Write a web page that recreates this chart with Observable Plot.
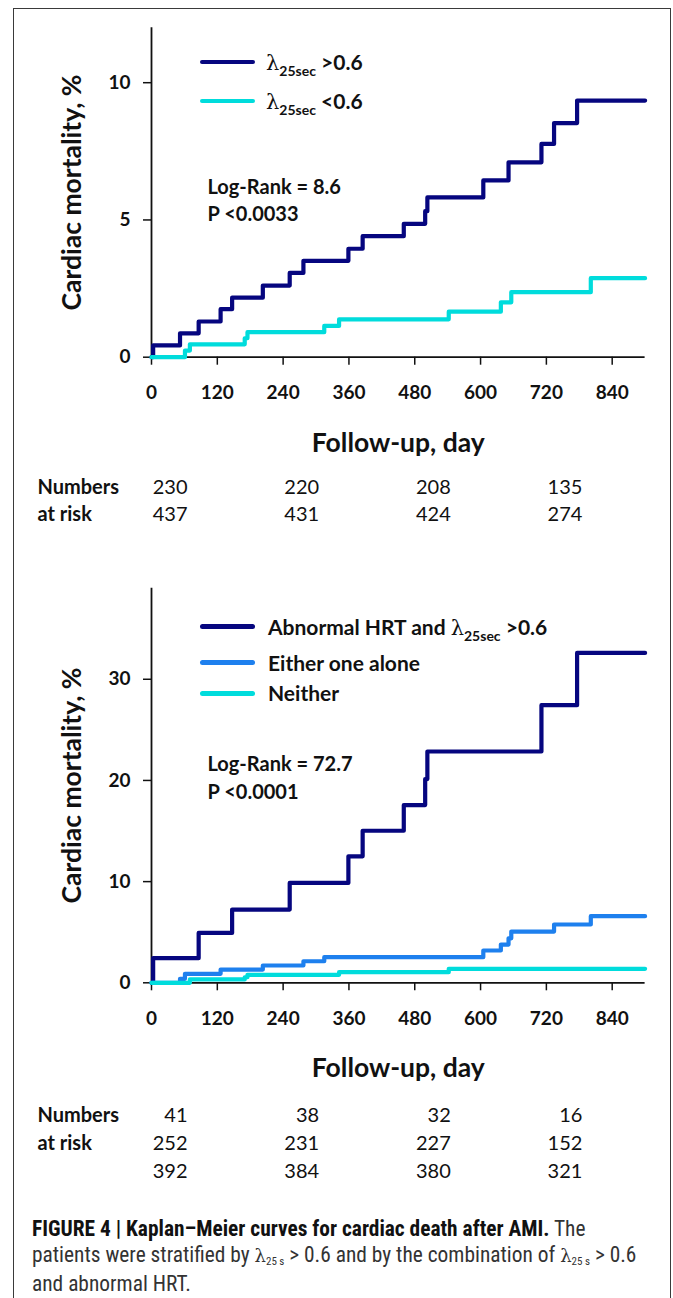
<!DOCTYPE html>
<html><head><meta charset="utf-8">
<script src="https://cdn.jsdelivr.net/npm/d3@7"></script>
<script src="https://cdn.jsdelivr.net/npm/@observablehq/plot@0.6"></script>
<style>
html,body{margin:0;padding:0;width:673px;height:1298px;overflow:hidden;background:#fff;}
#fig{position:relative;width:673px;height:1298px;font-family:Lato,"Open Sans",sans-serif;color:#111;}
#border{position:absolute;left:13px;top:8px;width:658px;height:1400px;border:1px solid #3a3a3a;box-sizing:border-box;}
.chart{position:absolute;left:0;}
.chart svg{overflow:visible;}
.sw{position:absolute;height:4.5px;width:55px;border-radius:3px;}
.lt{position:absolute;font-weight:bold;font-size:21px;line-height:21px;white-space:nowrap;color:#111;}
.lt .lam{font-family:"DejaVu Serif","Liberation Serif",serif;font-weight:normal;font-size:21px;}
.lt sub{font-size:14px;vertical-align:baseline;position:relative;top:6px;}
#cap{position:absolute;left:32px;top:1216px;font-family:"Liberation Sans Narrow","Roboto Condensed",Roboto,sans-serif;font-size:21.4px;line-height:25.7px;color:#333;white-space:nowrap;}
#cap b{color:#111;}
#cap .lam{font-family:"DejaVu Serif","Liberation Serif",serif;font-size:18px;}
#cap sub{font-size:11px;vertical-align:baseline;position:relative;top:3px;}
</style>
</head><body>
<div id="fig">
  <div id="border"></div>
  <div id="c1" class="chart" style="top:0"></div>
  <div id="c2" class="chart" style="top:560px"></div>
  <div id="legends"></div>
  <div id="cap"><b>FIGURE 4 | Kaplan–Meier curves for cardiac death after AMI.</b> The<br>patients were stratified by <span class="lam">λ</span><sub>25 s</sub> &gt; 0.6 and by the combination of <span class="lam">λ</span><sub>25 s</sub> &gt; 0.6<br>and abnormal HRT.</div>
</div>
<script>
// ---- data ----
const xTicks = [0, 120, 240, 360, 480, 600, 720, 840];
const yTicksTop = [0, 5, 10];
const yTicksBottom = [0, 10, 20, 30];

// Top panel: lambda25sec > 0.6 vs < 0.6
const topHighDays   = [0, 3, 52, 86, 126, 147, 203, 252, 277, 359, 385, 460, 499, 503, 605, 651, 711, 734, 776, 900];
const topHighValues = [0, 0.43, 0.87, 1.30, 1.75, 2.17, 2.61, 3.07, 3.51, 3.95, 4.41, 4.86, 5.32, 5.82, 6.44, 7.10, 7.77, 8.53, 9.35, 9.35];
const topLowDays    = [0, 61, 70, 170, 175, 315, 342, 542, 637, 656, 801, 900];
const topLowValues  = [0, 0.24, 0.47, 0.69, 0.91, 1.14, 1.38, 1.66, 2.00, 2.37, 2.88, 2.88];

// Bottom panel: Abnormal HRT and lambda > 0.6 / either one alone / neither
const botBothDays     = [0, 3, 86, 147, 252, 359, 385, 460, 499, 503, 711, 776, 900];
const botBothValues   = [0, 2.43, 4.93, 7.24, 9.87, 12.5, 15.03, 17.57, 20.14, 22.86, 27.44, 32.6, 32.6];
const botOneDays      = [0, 52, 61, 126, 203, 277, 315, 605, 637, 651, 656, 734, 801, 900];
const botOneValues    = [0, 0.39, 0.89, 1.31, 1.71, 2.13, 2.53, 3.19, 3.78, 4.40, 5.06, 5.76, 6.58, 6.58];
const botNeitherDays  = [0, 70, 170, 175, 342, 542, 900];
const botNeitherValues= [0, 0.33, 0.55, 0.79, 1.05, 1.38, 1.38];

// Numbers at risk
const riskDays = [0, 240, 480, 720];
const riskTopHigh = [230, 220, 208, 135];
const riskTopLow = [437, 431, 424, 274];
const riskBotBoth = [41, 38, 32, 16];
const riskBotOne = [252, 231, 227, 152];
const riskBotNeither = [392, 384, 380, 321];

const topGroups = ["high", "low"];
const topColors = ["#06067f", "#00dcdc"];
const botGroups = ["both", "one", "neither"];
const botColors = ["#06067f", "#1e80ee", "#00dcdc"];

function series(group, days, values) {
  return days.map((d, i) => ({group, day: d, value: values[i]}));
}
const topData = [...series("high", topHighDays, topHighValues), ...series("low", topLowDays, topLowValues)];
const botData = [...series("both", botBothDays, botBothValues), ...series("one", botOneDays, botOneValues), ...series("neither", botNeitherDays, botNeitherValues)];

function kmChart({data, groups, colors, yMax, yTicks, height, marginTop, axisY, risk, rowsDy, logRank, pValue, tickPad}) {
  const riskMarks = risk.map((row, r) =>
    Plot.text(riskDays, {x: d => d, text: (d, i) => String(row[i]), frameAnchor: "bottom", lineAnchor: "middle", dy: rowsDy[r], dx: 36, textAnchor: "end", fontSize: 20, fill: "#111"})
  );
  return Plot.plot({
    width: 673,
    height,
    marginLeft: 151,
    marginRight: 28.4,
    marginTop,
    marginBottom: height - axisY,
    x: {domain: [0, 900]},
    y: {domain: [0, yMax]},
    color: {domain: groups, range: colors},
    style: {fontFamily: "Lato, 'Open Sans', sans-serif", color: "#111", background: "transparent", overflow: "visible"},
    marks: [
      Plot.axisX({ticks: xTicks, tickSize: 8, tickPadding: tickPad, fontSize: 19, fontWeight: "bold", label: null, strokeWidth: 1.5, tickFormat: d => String(d)}),
      Plot.axisY({ticks: yTicks, tickSize: 8, tickPadding: 13, fontSize: 19, fontWeight: "bold", label: null, strokeWidth: 1.5}),
      Plot.ruleY([0], {strokeWidth: 1.8, stroke: "#111"}),
      Plot.ruleX([0], {strokeWidth: 1.8, stroke: "#111"}),
      Plot.line(data, {x: "day", y: "value", z: "group", stroke: "group", curve: "step-after", strokeWidth: 4.2}),
      Plot.text(["Cardiac mortality, %"], {text: d => d, frameAnchor: "left", dx: -79, rotate: -90, textAnchor: "middle", lineAnchor: "middle", fontSize: 26.5, fontWeight: "bold", fill: "#111"}),
      Plot.text(["Follow-up, day"], {text: d => d, frameAnchor: "bottom", lineAnchor: "middle", dy: 86, fontSize: 26.5, fontWeight: "bold", fill: "#111"}),
      Plot.text([logRank], {text: d => d, frameAnchor: "top-left", lineAnchor: "middle", dx: 56, dy: logRank.dy, textAnchor: "start", fontSize: 20, fontWeight: "bold", fill: "#111"}),
      Plot.text([pValue], {text: d => d, frameAnchor: "top-left", lineAnchor: "middle", dx: 56, dy: pValue.dy, textAnchor: "start", fontSize: 20, fontWeight: "bold", fill: "#111"}),
      Plot.text(["Numbers"], {text: d => d, frameAnchor: "bottom-left", lineAnchor: "middle", dx: -114, dy: rowsDy[0], textAnchor: "start", fontSize: 20, fontWeight: "bold", fill: "#111"}),
      Plot.text(["at risk"], {text: d => d, frameAnchor: "bottom-left", lineAnchor: "middle", dx: -114, dy: rowsDy[1], textAnchor: "start", fontSize: 20, fontWeight: "bold", fill: "#111"}),
      ...riskMarks
    ]
  });
}

function label(s, dy) { const o = new String(s); o.dy = dy; return o; }

const c1 = kmChart({
  data: topData, groups: topGroups, colors: topColors, yMax: 12, yTicks: yTicksTop,
  height: 560, marginTop: 27.3, axisY: 356.7, risk: [riskTopHigh, riskTopLow], rowsDy: [130.5, 157.5],
  logRank: label("Log-Rank = 8.6", 159.4), pValue: label("P <0.0033", 186.7), tickPad: 20
});
document.getElementById("c1").appendChild(c1);

const c2 = kmChart({
  data: botData, groups: botGroups, colors: botColors, yMax: 39, yTicks: yTicksBottom,
  height: 640, marginTop: 27.7, axisY: 422.3, risk: [riskBotBoth, riskBotOne, riskBotNeither], rowsDy: [133, 161, 189],
  logRank: label("Log-Rank = 72.7", 176.3), pValue: label("P <0.0001", 204), tickPad: 21
});
document.getElementById("c2").appendChild(c2);

// Legends (HTML so subscripts render)
const legendRows = [
  {cy: 62, color: topColors[0], html: '<span class="lam">λ</span><sub>25sec</sub> &gt;0.6', x: 266},
  {cy: 101, color: topColors[1], html: '<span class="lam">λ</span><sub>25sec</sub> &lt;0.6', x: 266},
  {cy: 626.7, color: botColors[0], html: 'Abnormal HRT and <span class="lam">λ</span><sub>25sec</sub> &gt;0.6', x: 268},
  {cy: 662.7, color: botColors[1], html: 'Either one alone', x: 268},
  {cy: 693.3, color: botColors[2], html: 'Neither', x: 268}
];
const lg = document.getElementById("legends");
for (const r of legendRows) {
  const sw = document.createElement("div");
  sw.className = "sw";
  sw.style.left = "200px";
  sw.style.top = (r.cy - 2.25) + "px";
  sw.style.background = r.color;
  lg.appendChild(sw);
  const t = document.createElement("div");
  t.className = "lt";
  t.style.left = r.x + "px";
  t.style.top = (r.cy - 11) + "px";
  t.innerHTML = r.html;
  lg.appendChild(t);
}
</script>
</body></html>
